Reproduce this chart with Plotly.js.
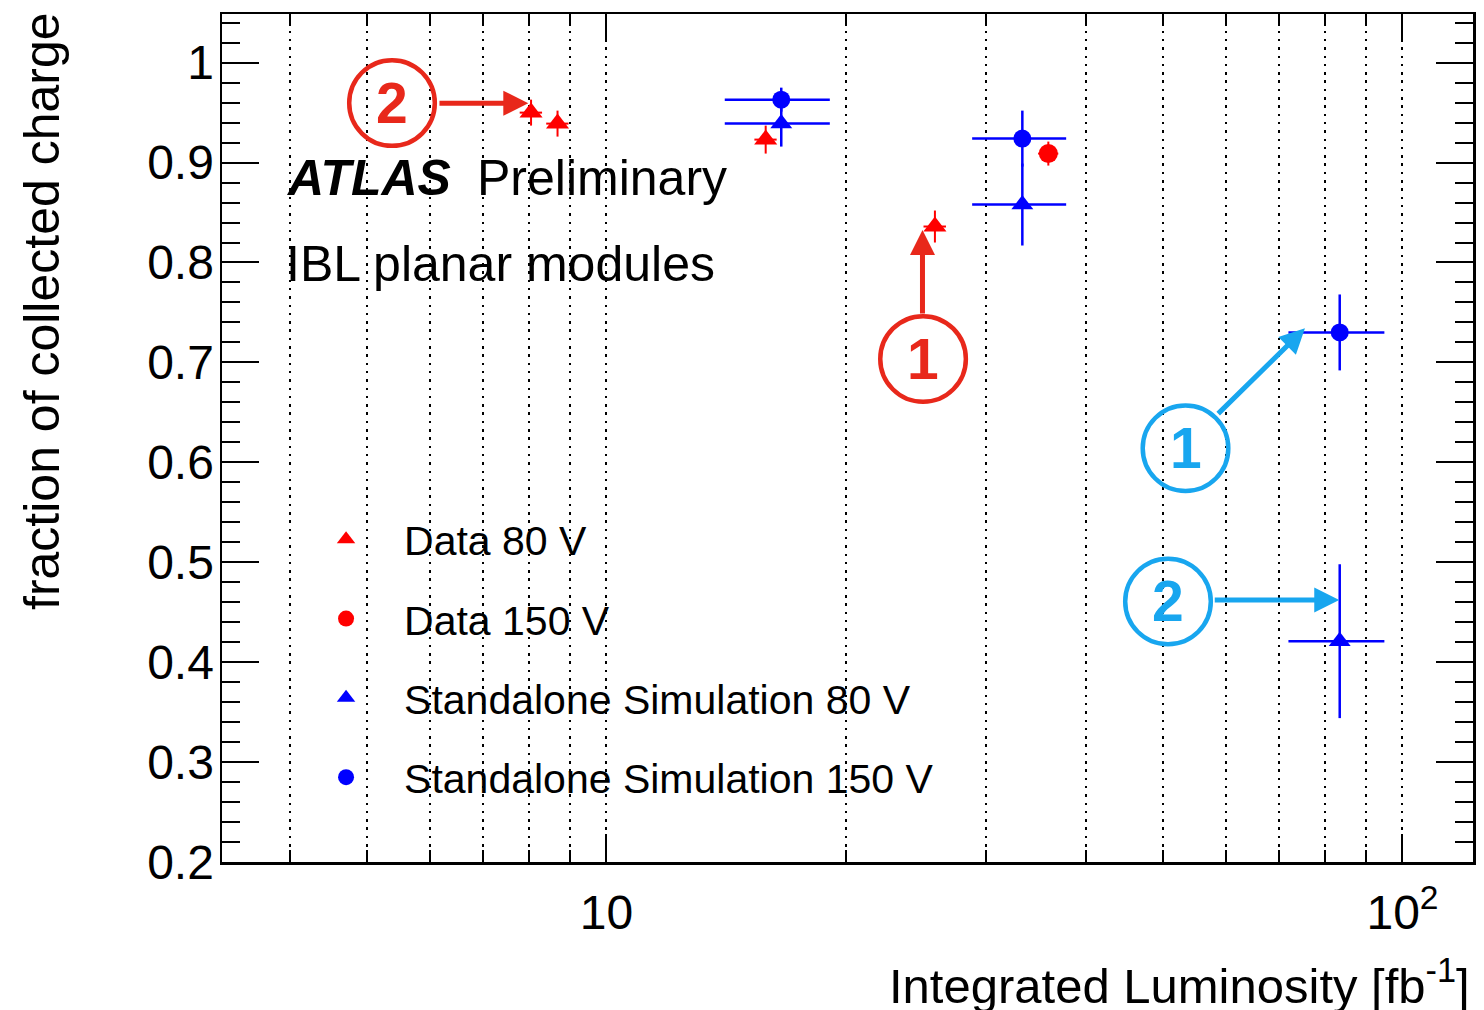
<!DOCTYPE html>
<html>
<head>
<meta charset="utf-8">
<script src="https://cdn.plot.ly/plotly-3.0.1.min.js"></script>
<style>
  html, body { margin: 0; padding: 0; background: #ffffff; }
  #chart { width: 1484px; height: 1010px; }
</style>
</head>
<body>
<div id="chart"></div>
<script>
// Data, 80 V bias
const data80Lumi = [8.04, 8.68, 15.85, 25.86];
const data80Frac = [0.950, 0.939, 0.923, 0.836];
const data80LumiErr = [0.26, 0.28, 0.51, 0.84];
const data80FracErr = [0.013, 0.013, 0.014, 0.016];

// Data, 150 V bias
const data150Lumi = [35.9];
const data150Frac = [0.909];
const data150LumiErr = [1.05];
const data150FracErr = [0.012];

// Standalone simulation (same luminosity points for both voltages)
const simLumi = [16.58, 33.3, 83.4];
const simLumiErr = [2.5, 4.5, 11.5];
const sim80Frac = [0.939, 0.858, 0.421];
const sim80FracErr = [0.023, 0.041, 0.077];
const sim150Frac = [0.963, 0.924, 0.730];
const sim150FracErr = [0.012, 0.028, 0.038];

// Axis ticks
const yTickVals = [0.2, 0.3, 0.4, 0.5, 0.6, 0.7, 0.8, 0.9, 1.0];
const yTickText = ['0.2', '0.3', '0.4', '0.5', '0.6', '0.7', '0.8', '0.9', '1'];
const xTickVals = [10, 100];
const xTickText = ['10', '10<sup>2</sup>'];
const xMinorVals = [4, 5, 6, 7, 8, 9, 20, 30, 40, 50, 60, 70, 80, 90];

const RED = '#ff0000';
const BLUE = '#0000ff';
const NOTE_RED = '#e8281b';
const NOTE_CYAN = '#18a6ef';
const FONT = 'Liberation Sans, Arial, Helvetica, sans-serif';

function series(name, x, y, ex, ey, color, symbol, size, thick) {
  return {
    type: 'scatter', mode: 'markers', name: name, legendgroup: name,
    x: x, y: y,
    marker: { color: color, symbol: symbol, size: size },
    error_x: { type: 'data', array: ex, color: color, thickness: thick, width: 0 },
    error_y: { type: 'data', array: ey, color: color, thickness: thick, width: 0 },
    hoverinfo: 'x+y+name'
  };
}

const traces = [
  series('Data 80 V', data80Lumi, data80Frac, data80LumiErr, data80FracErr, RED, 'triangle-up', 20, 2),
  series('Data 150 V', data150Lumi, data150Frac, data150LumiErr, data150FracErr, RED, 'circle', 19, 2),
  series('Standalone Simulation 80 V', simLumi, sim80Frac, simLumiErr, sim80FracErr, BLUE, 'triangle-up', 19, 2.5),
  series('Standalone Simulation 150 V', simLumi, sim150Frac, simLumiErr, sim150FracErr, BLUE, 'circle', 18, 2.5)
];

// Numbered callout: circle outline + bold digit, placed in paper coordinates
function calloutCircle(cx, cy, color) {
  return {
    type: 'circle', xref: 'paper', yref: 'paper',
    xsizemode: 'pixel', ysizemode: 'pixel',
    xanchor: cx, yanchor: cy,
    x0: -42.8, x1: 42.8, y0: -42.8, y1: 42.8,
    line: { color: color, width: 4.5 }
  };
}
function calloutDigit(cx, cy, digit, color) {
  return {
    xref: 'paper', yref: 'paper', x: cx, y: cy,
    xanchor: 'center', yanchor: 'middle', showarrow: false,
    text: '<b>' + digit + '</b>',
    font: { family: FONT, size: 57, color: color }
  };
}
// Arrow from tail to head, both in axis coordinates (log10 for x)
function arrow(tx, ty, hx, hy, color) {
  return {
    xref: 'x', yref: 'y', axref: 'x', ayref: 'y',
    x: hx, y: hy, ax: tx, ay: ty,
    text: '', showarrow: true,
    arrowhead: 2, arrowsize: 1, arrowwidth: 5, arrowcolor: color
  };
}

const callouts = [
  { x: 0.1359, y: 0.8950, d: '2', c: NOTE_RED },
  { x: 0.5604, y: 0.5932, d: '1', c: NOTE_RED },
  { x: 0.7702, y: 0.4879, d: '1', c: NOTE_CYAN },
  { x: 0.7562, y: 0.3072, d: '2', c: NOTE_CYAN }
];

const annotations = [
  { xref: 'paper', yref: 'paper', x: 0.0496, y: 0.8066, xanchor: 'left', yanchor: 'middle',
    showarrow: false, text: '<b><i>ATLAS</i></b>', font: { family: FONT, size: 50, color: '#000' } },
  { xref: 'paper', yref: 'paper', x: 0.2022, y: 0.8066, xanchor: 'left', yanchor: 'middle',
    showarrow: false, text: 'Preliminary', font: { family: FONT, size: 50, color: '#000' } },
  { xref: 'paper', yref: 'paper', x: 0.0496, y: 0.7052, xanchor: 'left', yanchor: 'middle',
    showarrow: false, text: 'IBL planar modules', font: { family: FONT, size: 50, color: '#000' } },
  { xref: 'paper', yref: 'paper', x: 0.9992, y: -0.1415, xanchor: 'right', yanchor: 'middle',
    showarrow: false, text: 'Integrated Luminosity [fb<sup>-1</sup>]', font: { family: FONT, size: 49, color: '#000' } },
  { xref: 'paper', yref: 'paper', x: -0.1439, y: 1.0047, xanchor: 'center', yanchor: 'top',
    textangle: -90, showarrow: false, text: 'fraction of collected charge', font: { family: FONT, size: 50, color: '#000' } },
  arrow(0.7883, 0.9594, 0.9018, 0.9594, NOTE_RED),
  arrow(1.397, 0.7474, 1.397, 0.8325, NOTE_RED),
  arrow(1.7666, 0.6473, 1.8775, 0.7341, NOTE_CYAN),
  arrow(1.7623, 0.4622, 1.9206, 0.4622, NOTE_CYAN)
].concat(callouts.map(c => calloutDigit(c.x, c.y, c.d, c.c)));

const shapes = callouts.map(c => calloutCircle(c.x, c.y, c.c));

const gridDash = '2.5px,5.8px';

const layout = {
  width: 1484, height: 1010,
  margin: { l: 222, r: 11, t: 14, b: 148, pad: 0 },
  paper_bgcolor: '#ffffff', plot_bgcolor: '#ffffff',
  font: { family: FONT, color: '#000000', size: 48 },
  showlegend: true,
  legend: {
    x: 0.0528, y: 0.4197, xanchor: 'left', yanchor: 'top',
    bgcolor: 'rgba(0,0,0,0)', borderwidth: 0,
    font: { family: FONT, size: 41, color: '#000' },
    traceorder: 'grouped', tracegroupgap: 23, itemwidth: 106
  },
  xaxis: {
    type: 'log', range: [0.517, 2.0886],
    tickmode: 'array', tickvals: xTickVals, ticktext: xTickText,
    ticks: 'inside', ticklen: 28, tickwidth: 2, tickcolor: '#000',
    ticklabelstandoff: 7,
    tickfont: { family: FONT, size: 48, color: '#000' },
    showline: true, linecolor: '#000', linewidth: 2.5, mirror: 'allticks',
    showgrid: true, gridcolor: '#000', gridwidth: 2, griddash: gridDash,
    zeroline: false,
    minor: {
      tickmode: 'array', tickvals: xMinorVals,
      ticks: 'inside', ticklen: 12, tickwidth: 2, tickcolor: '#000',
      showgrid: true, gridcolor: '#000', gridwidth: 2, griddash: gridDash
    }
  },
  yaxis: {
    range: [0.2, 1.0487],
    tickmode: 'array', tickvals: yTickVals, ticktext: yTickText,
    ticks: 'inside', ticklen: 37, tickwidth: 2, tickcolor: '#000',
    ticklabelstandoff: -4,
    tickfont: { family: FONT, size: 48, color: '#000' },
    showline: true, linecolor: '#000', linewidth: 2.5, mirror: 'allticks',
    showgrid: false, zeroline: false,
    minor: {
      tickmode: 'linear', tick0: 0.2, dtick: 0.02,
      ticks: 'inside', ticklen: 18, tickwidth: 2, tickcolor: '#000',
      showgrid: false
    }
  },
  annotations: annotations,
  shapes: shapes
};

Plotly.newPlot('chart', traces, layout, { displayModeBar: false, staticPlot: true });
</script>
</body>
</html>
